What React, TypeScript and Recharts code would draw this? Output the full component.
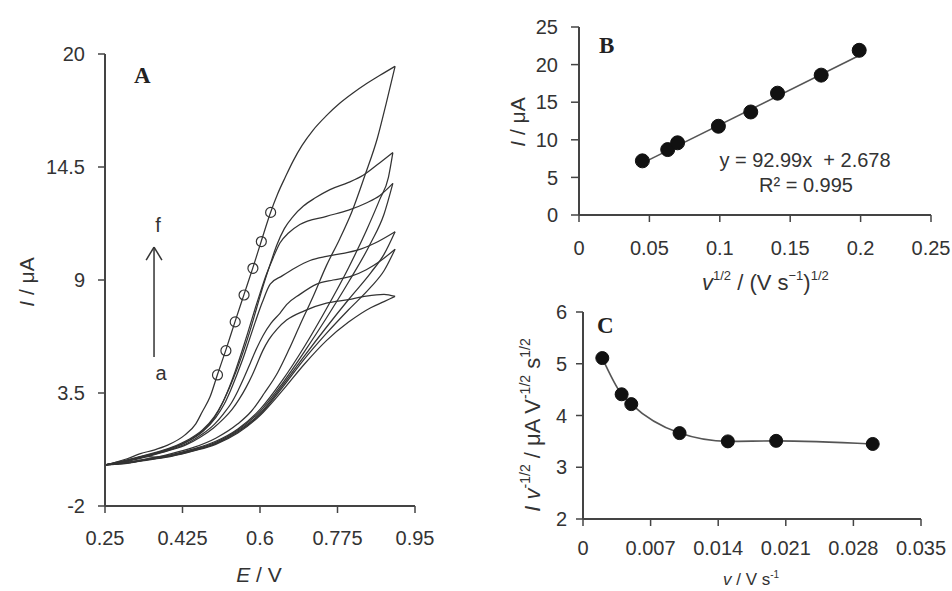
import React from 'react';
import { LineChart, Line, XAxis, YAxis, ReferenceLine } from 'recharts';

const FONT = '"Liberation Sans", Arial, Helvetica, sans-serif';
const SERIF = '"Liberation Serif", "Times New Roman", serif';
const INK = '#333';
const AXIS = '#444';

// ---------------- Panel A : cyclic voltammograms (E / V, I / µA) ----------------
const eTicksA = [0.25, 0.425, 0.6, 0.775, 0.95];
const iTicksA = [-2, 3.5, 9, 14.5, 20];

const fwdA = [[0.25,0.0],[0.30,0.08],[0.35,0.25],[0.40,0.42],[0.45,0.68],[0.50,1.0],[0.55,1.55],[0.60,2.4],[0.65,3.6],[0.70,4.9],[0.75,6.05],[0.80,6.95],[0.85,7.65],[0.88,7.95],[0.905,8.2]];
const revA = [[0.905,8.2],[0.88,8.3],[0.84,8.22],[0.80,8.05],[0.75,7.87],[0.70,7.5],[0.66,7.05],[0.638,6.6],[0.62,6.1],[0.606,5.55],[0.594,4.95],[0.582,4.35],[0.568,3.75],[0.553,3.2],[0.537,2.7],[0.518,2.25],[0.495,1.8],[0.465,1.35],[0.435,1.0],[0.395,0.7],[0.35,0.43],[0.30,0.18],[0.25,0.0]];

const fwdB = [[0.25,0.0],[0.30,0.1],[0.35,0.27],[0.40,0.44],[0.45,0.7],[0.50,1.03],[0.55,1.6],[0.60,2.45],[0.65,3.75],[0.70,5.15],[0.75,6.4],[0.80,7.55],[0.85,8.65],[0.88,9.45],[0.905,10.5]];
const revB = [[0.905,10.5],[0.87,9.9],[0.84,9.5],[0.803,9.16],[0.765,9.0],[0.728,8.8],[0.69,8.3],[0.66,7.8],[0.645,7.38],[0.625,6.9],[0.607,6.3],[0.592,5.65],[0.578,4.95],[0.564,4.25],[0.55,3.6],[0.535,3.0],[0.518,2.5],[0.498,2.0],[0.47,1.5],[0.44,1.1],[0.40,0.76],[0.35,0.46],[0.30,0.2],[0.25,0.0]];

const fwdC = [[0.25,0.0],[0.30,0.1],[0.35,0.28],[0.40,0.45],[0.45,0.72],[0.50,1.05],[0.55,1.65],[0.60,2.5],[0.65,3.85],[0.70,5.3],[0.75,6.7],[0.80,8.05],[0.85,9.35],[0.88,10.25],[0.905,11.35]];
const revC = [[0.905,11.35],[0.86,10.8],[0.82,10.45],[0.788,10.3],[0.75,10.15],[0.713,9.95],[0.68,9.6],[0.65,9.2],[0.623,8.8],[0.605,7.9],[0.59,7.0],[0.576,6.1],[0.562,5.2],[0.548,4.4],[0.534,3.65],[0.519,2.95],[0.5,2.3],[0.472,1.65],[0.442,1.2],[0.40,0.8],[0.35,0.48],[0.30,0.2],[0.25,0.0]];

const fwdD = [[0.25,0.0],[0.30,0.12],[0.35,0.3],[0.40,0.47],[0.45,0.75],[0.50,1.1],[0.55,1.7],[0.60,2.6],[0.65,3.95],[0.70,5.5],[0.75,7.15],[0.80,8.9],[0.85,10.8],[0.88,12.2],[0.90,13.7]];
const revD = [[0.90,13.7],[0.87,13.1],[0.84,12.75],[0.80,12.4],[0.75,12.1],[0.69,11.7],[0.665,11.3],[0.645,10.8],[0.63,10.1],[0.615,9.3],[0.60,8.35],[0.586,7.4],[0.572,6.4],[0.558,5.45],[0.544,4.55],[0.53,3.75],[0.515,3.0],[0.497,2.3],[0.47,1.65],[0.44,1.2],[0.40,0.82],[0.35,0.5],[0.30,0.22],[0.25,0.0]];

const fwdE = [[0.25,0.0],[0.30,0.12],[0.35,0.32],[0.40,0.5],[0.45,0.78],[0.50,1.15],[0.55,1.75],[0.60,2.7],[0.65,4.1],[0.70,5.75],[0.75,7.6],[0.80,9.6],[0.84,11.4],[0.87,12.9],[0.89,14.0],[0.90,15.2]];
const revE = [[0.90,15.2],[0.87,14.7],[0.833,14.1],[0.80,13.75],[0.758,13.4],[0.725,13.0],[0.698,12.6],[0.675,12.1],[0.655,11.5],[0.638,10.7],[0.622,9.7],[0.607,8.7],[0.592,7.6],[0.577,6.5],[0.562,5.5],[0.547,4.6],[0.532,3.8],[0.516,3.05],[0.497,2.35],[0.47,1.7],[0.44,1.25],[0.40,0.85],[0.35,0.52],[0.30,0.24],[0.25,0.0]];

const fwdF = [[0.25,0.0],[0.30,0.15],[0.335,0.42],[0.36,0.38],[0.40,0.55],[0.45,0.85],[0.50,1.3],[0.55,2.0],[0.58,2.6],[0.61,3.5],[0.64,4.5],[0.665,5.6],[0.69,6.8],[0.72,8.2],[0.75,9.7],[0.78,11.0],[0.807,12.3],[0.837,14.1],[0.865,15.9],[0.885,17.6],[0.905,19.4]];
const revF = [[0.905,19.4],[0.87,18.95],[0.84,18.55],[0.81,18.1],[0.78,17.6],[0.75,17.0],[0.72,16.3],[0.695,15.55],[0.675,14.8],[0.657,14.0],[0.64,13.2],[0.624,12.3],[0.603,10.9],[0.584,9.6],[0.564,8.3],[0.544,7.0],[0.523,5.6],[0.504,4.4],[0.487,3.3],[0.47,2.6],[0.455,2.0],[0.43,1.45],[0.39,0.95],[0.36,0.72],[0.33,0.55],[0.30,0.3],[0.25,0.0]];

const markerE = [0.504, 0.523, 0.544, 0.564, 0.584, 0.603, 0.624];
const markerI = [4.38, 5.56, 6.96, 8.27, 9.57, 10.87, 12.29];

// arrow a -> f (data coordinates of the annotation)
const arrowE = 0.3607;
const arrowFrom = 5.25;
const arrowTo = 10.6;
const arrowHeadHalf = 0.0178;
const arrowHeadDrop = 0.63;

// ---------------- Panel B : I vs v^1/2 ----------------
const bX = [0.045, 0.063, 0.070, 0.099, 0.122, 0.141, 0.172, 0.199];
const bY = [7.2, 8.7, 9.6, 11.8, 13.7, 16.2, 18.6, 21.9];
const bTrendX = [0.045, 0.199];
const bTrendY = [6.9, 21.2];
const bXTicks = [0, 0.05, 0.1, 0.15, 0.2, 0.25];
const bYTicks = [0, 5, 10, 15, 20, 25];

// ---------------- Panel C : I v^-1/2 vs v ----------------
const cX = [0.002, 0.004, 0.005, 0.010, 0.015, 0.020, 0.030];
const cY = [5.11, 4.41, 4.22, 3.66, 3.50, 3.51, 3.45];
const cXTicks = [0, 0.007, 0.014, 0.021, 0.028, 0.035];
const cYTicks = [2, 3, 4, 5, 6];

const toEI = (arr: number[][]) => arr.map(([E, I]) => ({ E, I }));
const zipXY = (xs: number[], ys: number[]) => xs.map((x, i) => ({ x, y: ys[i] }));

const branchesA = [fwdA, revA, fwdB, revB, fwdC, revC, fwdD, revD, fwdE, revE, fwdF, revF].map(toEI);
const markersA = markerE.map((E, i) => ({ E, I: markerI[i] }));

const tickStyle = { fill: INK, fontSize: 20, fontFamily: FONT };
const axisLine = { stroke: AXIS, strokeWidth: 2 };
const tickLine = { stroke: AXIS, strokeWidth: 1.5 };

function PanelA() {
  return (
    <LineChart width={470} height={591} margin={{ top: 54, right: 55, left: 0, bottom: 0 }}>
      <XAxis type="number" dataKey="E" domain={[0.25, 0.95]} ticks={eTicksA} allowDataOverflow
        tick={tickStyle} axisLine={axisLine} tickLine={tickLine} tickSize={7} tickMargin={18} height={85} interval={0} />
      <YAxis type="number" dataKey="I" domain={[-2, 20]} ticks={iTicksA} allowDataOverflow
        tick={tickStyle} axisLine={axisLine} tickLine={tickLine} tickSize={7} tickMargin={13} width={105} interval={0} />
      {branchesA.map((d, k) => (
        <Line key={k} data={d} dataKey="I" type="monotone" stroke={INK} strokeWidth={1.25}
          dot={false} activeDot={false} isAnimationActive={false} />
      ))}
      <Line data={markersA} dataKey="I" stroke="none" isAnimationActive={false} activeDot={false}
        dot={{ r: 5, fill: 'none', stroke: INK, strokeWidth: 1.2 }} />
      <ReferenceLine segment={[{ x: arrowE, y: arrowFrom }, { x: arrowE, y: arrowTo }]} stroke={INK} strokeWidth={1.5} />
      <ReferenceLine segment={[{ x: arrowE - arrowHeadHalf, y: arrowTo - arrowHeadDrop }, { x: arrowE, y: arrowTo }]} stroke={INK} strokeWidth={1.5} />
      <ReferenceLine segment={[{ x: arrowE + arrowHeadHalf, y: arrowTo - arrowHeadDrop }, { x: arrowE, y: arrowTo }]} stroke={INK} strokeWidth={1.5} />
    </LineChart>
  );
}

function PanelB() {
  return (
    <LineChart width={472} height={300} margin={{ top: 27, right: 21, left: 0, bottom: 0 }}>
      <XAxis type="number" dataKey="x" domain={[0, 0.25]} ticks={bXTicks} allowDataOverflow
        tick={tickStyle} axisLine={axisLine} tickLine={tickLine} tickSize={7} tickMargin={19} height={85} interval={0} />
      <YAxis type="number" dataKey="y" domain={[0, 25]} ticks={bYTicks} allowDataOverflow
        tick={tickStyle} axisLine={axisLine} tickLine={tickLine} tickSize={8} tickMargin={13} width={99} interval={0} />
      <Line data={zipXY(bTrendX, bTrendY)} dataKey="y" type="linear" stroke="#555" strokeWidth={1.6}
        dot={false} activeDot={false} isAnimationActive={false} />
      <Line data={zipXY(bX, bY)} dataKey="y" stroke="none" isAnimationActive={false} activeDot={false}
        dot={{ r: 7, fill: '#111', stroke: '#111', strokeWidth: 1 }} />
    </LineChart>
  );
}

function PanelC() {
  return (
    <LineChart width={472} height={301} margin={{ top: 22, right: 31, left: 0, bottom: 0 }}>
      <XAxis type="number" dataKey="x" domain={[0, 0.035]} ticks={cXTicks} allowDataOverflow
        tick={tickStyle} axisLine={axisLine} tickLine={tickLine} tickSize={7} tickMargin={15} height={72} interval={0} />
      <YAxis type="number" dataKey="y" domain={[2, 6]} ticks={cYTicks} allowDataOverflow
        tick={tickStyle} axisLine={axisLine} tickLine={tickLine} tickSize={7} tickMargin={9} width={103} interval={0} />
      <Line data={zipXY(cX, cY)} dataKey="y" type="monotone" stroke="#555" strokeWidth={1.6}
        isAnimationActive={false} activeDot={false}
        dot={{ r: 6.5, fill: '#111', stroke: '#111', strokeWidth: 1 }} />
    </LineChart>
  );
}

function Overlay() {
  const t = { fontFamily: FONT, fill: INK };
  return (
    <svg width={952} height={591} style={{ position: 'absolute', left: 0, top: 0, pointerEvents: 'none' }}>
      {/* panel letters */}
      <text x={134} y={83} fontFamily={SERIF} fontWeight="bold" fontSize={23} fill="#222">A</text>
      <text x={599} y={53} fontFamily={SERIF} fontWeight="bold" fontSize={23} fill="#222">B</text>
      <text x={597} y={333} fontFamily={SERIF} fontWeight="bold" fontSize={23} fill="#222">C</text>

      {/* panel A annotations */}
      <text x={158} y={232} textAnchor="middle" fontSize={20} {...t}>f</text>
      <text x={161} y={380} textAnchor="middle" fontSize={20} {...t}>a</text>

      {/* panel A axis titles */}
      <text x={34} y={282} textAnchor="middle" fontSize={21} transform="rotate(-90 34 282)" {...t}>
        <tspan fontStyle="italic">I</tspan> / μA
      </text>
      <text x={259} y={582} textAnchor="middle" fontSize={21} {...t}>
        <tspan fontStyle="italic">E</tspan> / V
      </text>

      {/* panel B */}
      <text x={525} y={122} textAnchor="middle" fontSize={21} transform="rotate(-90 525 122)" {...t}>
        <tspan fontStyle="italic">I</tspan> / μA
      </text>
      <text x={702} y={290} fontSize={22} {...t}>
        <tspan fontStyle="italic">v</tspan>
        <tspan fontSize={13} dy={-10}>1/2</tspan>
        <tspan dy={10}> / (V s</tspan>
        <tspan fontSize={13} dy={-10}>−1</tspan>
        <tspan dy={10}>)</tspan>
        <tspan fontSize={13} dy={-10}>1/2</tspan>
      </text>
      <text x={805} y={167} textAnchor="middle" fontSize={20} xmlSpace="preserve" {...t}>y = 92.99x  + 2.678</text>
      <text x={806} y={192} textAnchor="middle" fontSize={20} {...t}>R² = 0.995</text>

      {/* panel C */}
      <text x={540} y={425} textAnchor="middle" fontSize={22} transform="rotate(-90 540 425)" {...t}>
        <tspan fontStyle="italic">I v</tspan>
        <tspan fontSize={14} dy={-10}>-1/2</tspan>
        <tspan dy={10}> / μA V</tspan>
        <tspan fontSize={14} dy={-10}>-1/2</tspan>
        <tspan dy={10}> s</tspan>
        <tspan fontSize={14} dy={-10}>1/2</tspan>
      </text>
      <text x={723} y={585} fontSize={17} {...t}>
        <tspan fontStyle="italic">v</tspan> / V s
        <tspan fontSize={10} dy={-7}>-1</tspan>
      </text>
    </svg>
  );
}

export default function App() {
  return (
    <div style={{ position: 'absolute', left: 0, top: 0, width: 952, height: 591, overflow: 'hidden', background: '#fff' }}>
      <div style={{ position: 'absolute', left: 0, top: 0 }}><PanelA /></div>
      <div style={{ position: 'absolute', left: 480, top: 0 }}><PanelB /></div>
      <div style={{ position: 'absolute', left: 480, top: 290 }}><PanelC /></div>
      <Overlay />
    </div>
  );
}
